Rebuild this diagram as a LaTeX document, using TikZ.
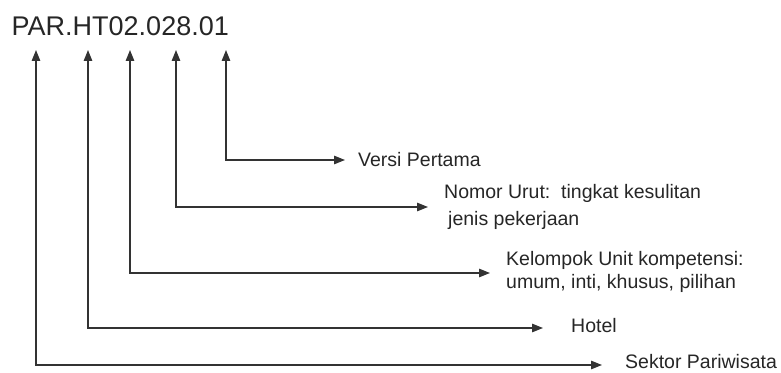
\documentclass[tikz,border=0pt]{standalone}
\usepackage{fontspec}
\setmainfont{Liberation Sans}
\usetikzlibrary{arrows.meta}
\begin{document}
\begin{tikzpicture}[x=1pt,y=1pt,
  conn/.style={draw=black!80, line width=1.2pt, {Triangle[length=11pt,width=8.5pt]}-{Triangle[length=11pt,width=8.5pt]}},
  lab/.style={anchor=west, inner sep=0pt, text=black!85, font=\fontsize{19.5}{24}\selectfont, align=left},
  code/.style={anchor=base west, inner sep=0pt, text=black!85, font=\fontsize{27}{32}\selectfont}]
\useasboundingbox (0,0) rectangle (781,372);
\node[code] (title) at (11.5,336) {PAR.HT02.028.01};
% top arrow tips
\coordinate (t1) at (36,322);
\coordinate (t2) at (88,322);
\coordinate (t3) at (130,322);
\coordinate (t4) at (176,322);
\coordinate (t5) at (226,322);
% right arrow tips
\coordinate (e5) at (345,212);
\coordinate (e4) at (428,165);
\coordinate (e3) at (490,99);
\coordinate (e2) at (543,44);
\coordinate (e1) at (602,7);
% labels
\node[lab] (versi) at (358,212) {Versi Pertama};
\node[lab, font=\fontsize{19.5}{27}\selectfont] (nomor) at (444,165) {Nomor Urut:\ \ tingkat kesulitan\\\hspace*{4pt}jenis pekerjaan};
\node[lab, font=\fontsize{19.5}{23}\selectfont] (kelompok) at (506,100) {Kelompok Unit kompetensi:\\umum, inti, khusus, pilihan};
\node[lab] (hotel) at (571,46) {Hotel};
\node[lab] (sektor) at (625,10) {Sektor Pariwisata};
% connectors
\draw[conn] (t5) |- (e5);
\draw[conn] (t4) |- (e4);
\draw[conn] (t3) |- (e3);
\draw[conn] (t2) |- (e2);
\draw[conn] (t1) |- (e1);
\end{tikzpicture}
\end{document}
